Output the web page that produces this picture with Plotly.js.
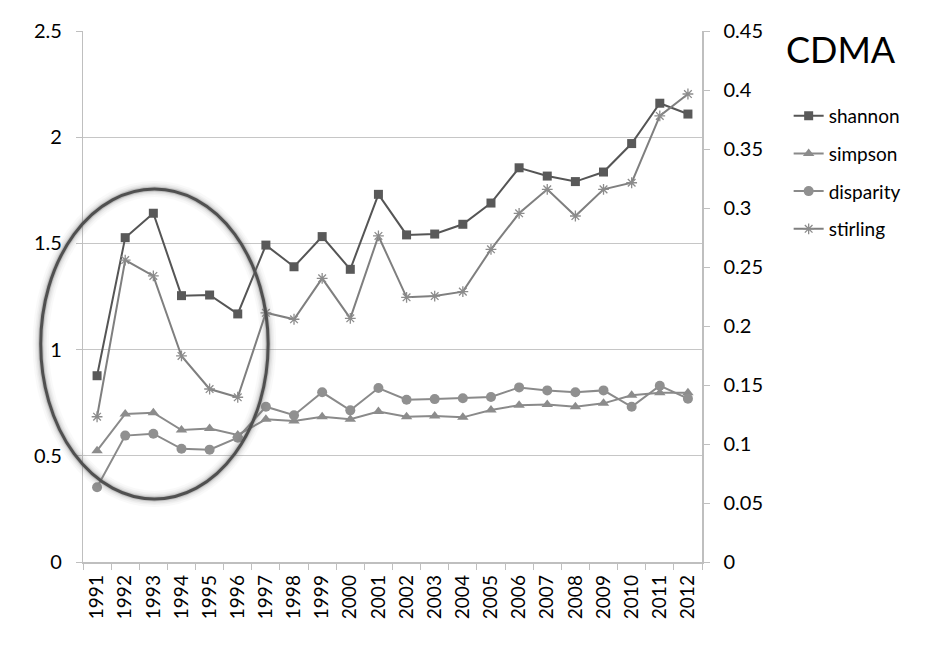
<!DOCTYPE html>
<html>
<head>
<meta charset="utf-8">
<script src="https://cdn.plot.ly/plotly-3.0.1.min.js"></script>
<style>html,body{margin:0;padding:0;background:#fff;}#chart{width:947px;height:646px;}</style>
</head>
<body>
<div id="chart"></div>
<script>
const years = ['1991','1992','1993','1994','1995','1996','1997','1998','1999','2000','2001','2002','2003','2004','2005','2006','2007','2008','2009','2010','2011','2012'];
const shannon = [0.877,1.527,1.642,1.254,1.257,1.168,1.492,1.390,1.532,1.378,1.731,1.540,1.544,1.590,1.690,1.856,1.817,1.791,1.836,1.970,2.160,2.109];
const simpson = [0.524,0.697,0.703,0.621,0.628,0.598,0.672,0.664,0.684,0.672,0.708,0.684,0.687,0.681,0.716,0.738,0.741,0.731,0.747,0.785,0.797,0.797];
const disparity = [0.352,0.595,0.604,0.533,0.529,0.585,0.731,0.691,0.799,0.714,0.819,0.764,0.767,0.771,0.777,0.822,0.808,0.799,0.808,0.731,0.830,0.769];
const stirling = [0.1231,0.2559,0.2424,0.1746,0.1466,0.1396,0.2112,0.2057,0.2404,0.2065,0.2763,0.2243,0.2254,0.2291,0.2650,0.2955,0.3158,0.2932,0.3158,0.3214,0.3780,0.3966];
const leftTicks = [0,0.5,1,1.5,2,2.5];
const rightTicks = [0,0.05,0.1,0.15,0.2,0.25,0.3,0.35,0.4,0.45];

const FONT = 'Lato, "Open Sans", sans-serif';
const traces = [
  {x: years, y: shannon, name: 'shannon', type: 'scatter', mode: 'lines+markers', legendgroup: 'a',
   line: {color: '#555555', width: 2}, marker: {symbol: 'square', size: 9, color: '#595959'}},
  {x: years, y: simpson, name: 'simpson', type: 'scatter', mode: 'lines+markers', legendgroup: 'b',
   line: {color: '#8a8a8a', width: 2}, marker: {symbol: 'triangle-up', size: 10, color: '#8c8c8c'}},
  {x: years, y: disparity, name: 'disparity', type: 'scatter', mode: 'lines+markers', legendgroup: 'c',
   line: {color: '#8a8a8a', width: 2}, marker: {symbol: 'circle', size: 10, color: '#909090'}},
  {x: years, y: stirling, name: 'stirling', type: 'scatter', mode: 'lines+markers', yaxis: 'y2', legendgroup: 'd',
   line: {color: '#7f7f7f', width: 2}, marker: {symbol: 'asterisk-open', size: 9, color: '#8c8c8c', line: {color: '#8c8c8c', width: 1.3}}}
];

const ex0 = -0.0683, ex1 = 0.2991, ey0 = 0.1186, ey1 = 0.7024;
const glow = [[16,0.04],[12,0.06],[9,0.09],[6,0.15],[4.5,0.25]].map(([w,o]) => ({
  type: 'circle', xref: 'paper', yref: 'paper', x0: ex0, x1: ex1, y0: ey0, y1: ey1,
  line: {color: '#777777', width: w}, opacity: o, layer: 'above'
}));
glow.push({type: 'circle', xref: 'paper', yref: 'paper', x0: ex0, x1: ex1, y0: ey0, y1: ey1,
  line: {color: '#505050', width: 3}, layer: 'above'});

const layout = {
  width: 947, height: 646,
  margin: {l: 83, r: 245, t: 31, b: 84},
  paper_bgcolor: '#ffffff', plot_bgcolor: '#ffffff',
  font: {family: FONT, size: 19, color: '#000000'},
  showlegend: true,
  legend: {x: 1.14, y: 0.876, xanchor: 'left', yanchor: 'top', tracegroupgap: 10,
           font: {family: FONT, size: 19, color: '#000'}, itemwidth: 30, bgcolor: 'rgba(0,0,0,0)'},
  xaxis: {type: 'category', tickangle: -90, showgrid: false, showline: true, linecolor: '#bfbfbf', linewidth: 1.5,
          ticks: 'outside', tickson: 'boundaries', ticklen: 6, tickcolor: '#bfbfbf', ticklabelstandoff: 4,
          tickfont: {family: FONT, size: 19}, zeroline: false, range: [-0.5, 21.5]},
  yaxis: {range: [0, 2.5], tickvals: leftTicks, ticktext: leftTicks.map(String), showgrid: true, gridcolor: '#c6c6c6', gridwidth: 1.2,
          showline: true, linecolor: '#bfbfbf', linewidth: 1.2, ticks: 'outside', ticklen: 6, tickcolor: '#bfbfbf',
          ticklabelstandoff: 10, zeroline: false, tickfont: {family: FONT, size: 20}},
  yaxis2: {range: [0, 0.45], overlaying: 'y', side: 'right', tickvals: rightTicks, ticktext: rightTicks.map(String),
           showgrid: false, showline: true, linecolor: '#bfbfbf', linewidth: 1.5, ticks: 'outside', ticklen: 6,
           tickcolor: '#bfbfbf', ticklabelstandoff: 10, zeroline: false, tickfont: {family: FONT, size: 20}},
  annotations: [{text: 'CDMA', xref: 'paper', yref: 'paper', x: 1.225, y: 0.967, xanchor: 'center', yanchor: 'middle',
                 showarrow: false, font: {family: FONT, size: 36, color: '#000'}}],
  shapes: glow
};

Plotly.newPlot('chart', traces, layout, {displayModeBar: false, staticPlot: true});
</script>
</body>
</html>
